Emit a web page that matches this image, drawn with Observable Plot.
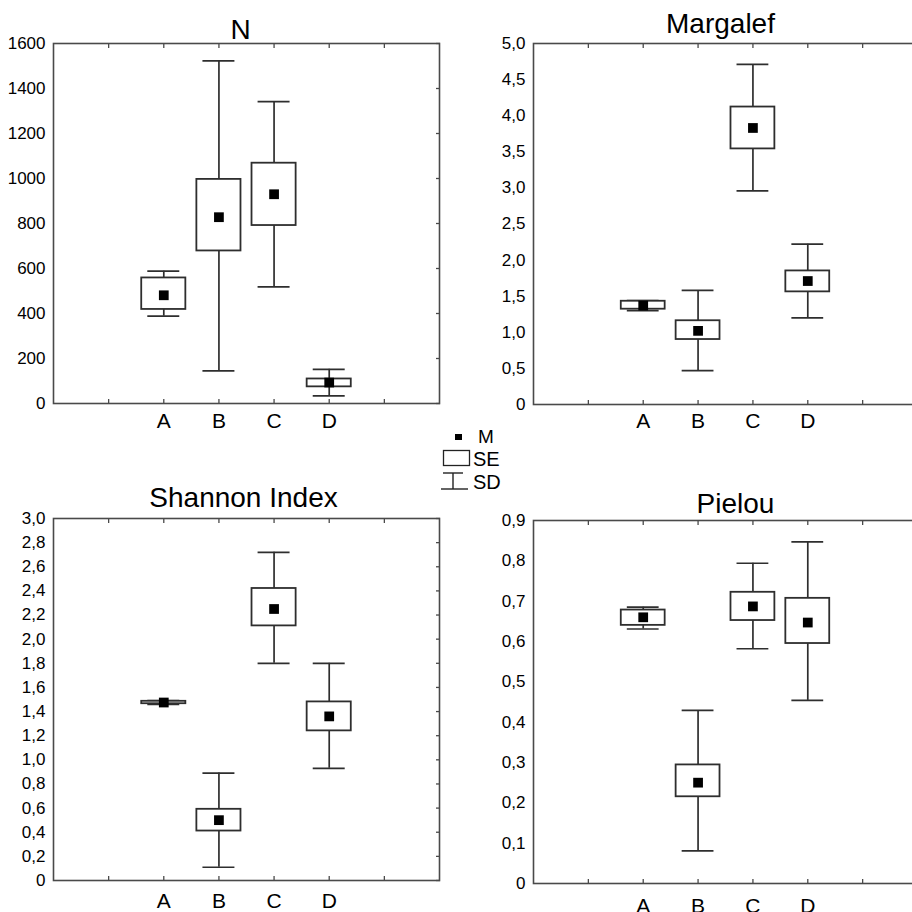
<!DOCTYPE html>
<html><head><meta charset="utf-8">
<script src="https://cdn.jsdelivr.net/npm/d3@7"></script>
<script src="https://cdn.jsdelivr.net/npm/@observablehq/plot@0.6"></script>
<style>
html,body{margin:0;padding:0;background:#fff;overflow:hidden;}
#root{position:relative;width:912px;height:912px;overflow:hidden;font-family:"Liberation Sans",Arial,sans-serif;background:#fff;}
.panel{position:absolute;}
.panel svg{max-width:none !important;}
.panel g[aria-label="x-axis tick label"]{font-size:21px !important;}
.panel g[aria-label="y-axis tick label"]{font-size:17px !important;}
</style></head><body><div id="root"></div>
<script>
const categories = ["A","B","C","D"];

const nMean   = [481, 828, 930, 93];
const nSeLow  = [418, 678, 791, 74];
const nSeHigh = [558, 996, 1068, 109];
const nSdLow  = [388, 145, 518, 34];
const nSdHigh = [588, 1523, 1342, 152];

const mMean   = [1.37, 1.02, 3.83, 1.71];
const mSeLow  = [1.32, 0.90, 3.54, 1.56];
const mSeHigh = [1.43, 1.16, 4.12, 1.85];
const mSdLow  = [1.30, 0.47, 2.96, 1.20];
const mSdHigh = [1.44, 1.58, 4.71, 2.22];

const sMean   = [1.475, 0.50, 2.25, 1.36];
const sSeLow  = [1.465, 0.41, 2.11, 1.24];
const sSeHigh = [1.485, 0.59, 2.42, 1.48];
const sSdLow  = [1.46, 0.11, 1.80, 0.93];
const sSdHigh = [1.49, 0.89, 2.72, 1.80];

const pMean   = [0.660, 0.250, 0.687, 0.647];
const pSeLow  = [0.640, 0.215, 0.652, 0.595];
const pSeHigh = [0.678, 0.294, 0.722, 0.707];
const pSdLow  = [0.631, 0.081, 0.582, 0.454];
const pSdHigh = [0.685, 0.429, 0.794, 0.847];

const nTicks = [0,200,400,600,800,1000,1200,1400,1600];
const mTicks = [0,0.5,1,1.5,2,2.5,3,3.5,4,4.5,5];
const sTicks = [0,0.2,0.4,0.6,0.8,1,1.2,1.4,1.6,1.8,2,2.2,2.4,2.6,2.8,3];
const pTicks = [0,0.1,0.2,0.3,0.4,0.5,0.6,0.7,0.8,0.9];
const xSlots = [1,2,3,4,5,6];

const root = document.getElementById("root");
const ink = "#2e2e2e";

function panel(cfg) {
  const data = categories.map((c, i) => ({
    cat: c, pos: i + 2,
    mean: cfg.mean[i], seLow: cfg.seLow[i], seHigh: cfg.seHigh[i],
    sdLow: cfg.sdLow[i], sdHigh: cfg.sdHigh[i]
  }));
  const fmt = cfg.integer ? (d => String(d)) : (d => d === 0 ? "0" : d.toFixed(1).replace(".", ","));
  const yMax = cfg.ticks[cfg.ticks.length - 1];
  const p = Plot.plot({
    width: cfg.width, height: cfg.height,
    marginLeft: cfg.mL, marginRight: cfg.mR, marginTop: cfg.mT, marginBottom: cfg.mB,
    x: {domain: [0, 7], label: null},
    y: {domain: [0, yMax], label: null},
    style: {fontFamily: '"Liberation Sans", Arial, sans-serif', background: "transparent", overflow: "visible", color: "#000", maxWidth: "none"},
    marks: [
      Plot.frame({stroke: "#4a4a4a", strokeWidth: 1.6}),
      Plot.axisY(cfg.ticks, {anchor: "left", tickSize: 0, tickPadding: 8, tickFormat: fmt, fontSize: 17, fill: "#000", label: null}),
      Plot.axisY(cfg.ticks, {anchor: "right", tickSize: -4, tickFormat: () => "", stroke: "#4a4a4a", strokeWidth: 1.3, label: null}),
      Plot.axisX(xSlots, {anchor: "top", tickSize: -4, tickFormat: () => "", stroke: "#4a4a4a", strokeWidth: 1.3, label: null}),
      Plot.axisX(xSlots, {anchor: "bottom", tickSize: -4, tickFormat: () => "", stroke: "#4a4a4a", strokeWidth: 1.3, label: null}),
      Plot.axisX(data.map(d => d.pos), {anchor: "bottom", tickSize: 0, tickPadding: cfg.labelPad, tickFormat: t => categories[t - 2], fontSize: 21, fill: "#000", label: null}),
      Plot.ruleX(data, {x: "pos", y1: "sdLow", y2: "sdHigh", stroke: ink, strokeWidth: 1.7}),
      Plot.ruleY(data, {y: "sdHigh", x1: d => d.pos - 0.29, x2: d => d.pos + 0.29, stroke: ink, strokeWidth: 1.7}),
      Plot.ruleY(data, {y: "sdLow", x1: d => d.pos - 0.29, x2: d => d.pos + 0.29, stroke: ink, strokeWidth: 1.7}),
      Plot.rect(data, {x1: d => d.pos - 0.4, x2: d => d.pos + 0.4, y1: "seLow", y2: "seHigh", fill: "white", stroke: ink, strokeWidth: 1.8}),
      Plot.dot(data, {x: "pos", y: "mean", symbol: "square", r: 5.5, fill: "#000", stroke: "none"}),
      Plot.text([cfg.title], {frameAnchor: "top", lineAnchor: "bottom", dy: cfg.titleDy, dx: cfg.titleDx, fontSize: 28, fill: "#000", text: d => d})
    ]
  });
  p.style.maxWidth = "none";
  const div = document.createElement("div");
  div.className = "panel";
  div.style.left = cfg.left + "px";
  div.style.top = cfg.top + "px";
  div.style.width = cfg.width + "px";
  div.appendChild(p);
  root.appendChild(div);
}

panel({title: "N", mean: nMean, seLow: nSeLow, seHigh: nSeHigh, sdLow: nSdLow, sdHigh: nSdHigh,
  ticks: nTicks, integer: true, left: 0, top: 0, width: 456, height: 440,
  mL: 53, mR: 17, mT: 43, mB: 37, titleDy: -5, titleDx: -6, labelPad: 10});
panel({title: "Margalef", mean: mMean, seLow: mSeLow, seHigh: mSeHigh, sdLow: mSdLow, sdHigh: mSdHigh,
  ticks: mTicks, left: 456, top: 0, width: 470, height: 440,
  mL: 77, mR: 9, mT: 43, mB: 36, titleDy: -11, titleDx: -5, labelPad: 9});
panel({title: "Shannon Index", mean: sMean, seLow: sSeLow, seHigh: sSeHigh, sdLow: sSdLow, sdHigh: sSdHigh,
  ticks: sTicks, left: 0, top: 470, width: 456, height: 442,
  mL: 53, mR: 17, mT: 48, mB: 32, titleDy: -12, titleDx: -3, labelPad: 13});
panel({title: "Pielou", mean: pMean, seLow: pSeLow, seHigh: pSeHigh, sdLow: pSdLow, sdHigh: pSdHigh,
  ticks: pTicks, left: 456, top: 470, width: 470, height: 442,
  mL: 77, mR: 9, mT: 50, mB: 29, titleDy: -8, titleDx: 10, labelPad: 15});

// legend
const ns = "http://www.w3.org/2000/svg";
const lg = document.createElementNS(ns, "svg");
lg.setAttribute("width", 80); lg.setAttribute("height", 70);
lg.style.position = "absolute"; lg.style.left = "436px"; lg.style.top = "424px";
lg.innerHTML = `
  <rect x="19" y="10" width="7" height="6" fill="#000"/>
  <text x="42" y="19" font-size="19" font-family="Liberation Sans, Arial, sans-serif">M</text>
  <rect x="7.5" y="26.5" width="26" height="15" fill="#fff" stroke="#222" stroke-width="1.3"/>
  <text x="37" y="42" font-size="20" font-family="Liberation Sans, Arial, sans-serif">SE</text>
  <line x1="7" y1="49" x2="27" y2="49" stroke="#222" stroke-width="1.4"/>
  <line x1="17" y1="49" x2="17" y2="65" stroke="#222" stroke-width="1.4"/>
  <line x1="5" y1="65" x2="32" y2="65" stroke="#222" stroke-width="1.4"/>
  <text x="37" y="65" font-size="20" font-family="Liberation Sans, Arial, sans-serif">SD</text>
`;
root.appendChild(lg);
</script></body></html>
